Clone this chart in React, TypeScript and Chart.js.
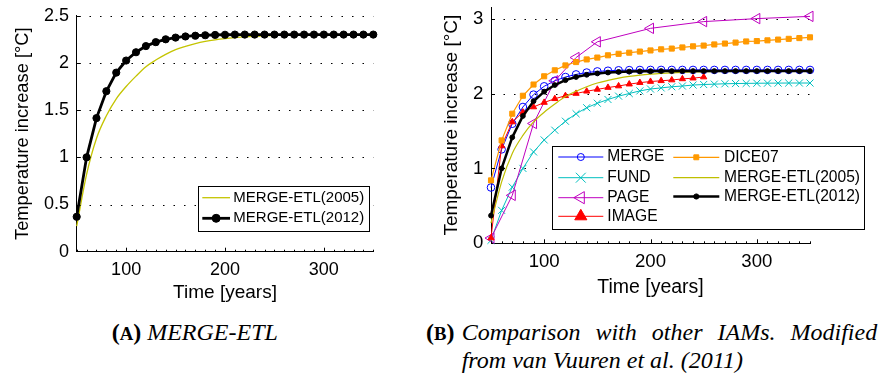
import React, { useEffect, useRef } from 'react';
import { Chart, registerables } from 'chart.js';
import { drawPoint } from 'chart.js/helpers';

Chart.register(...registerables);

// ---------- data ----------
const YEARS = [50, 60, 70, 80, 90, 100, 110, 120, 130, 140, 150, 160, 170, 180, 190, 200, 210, 220, 230, 240, 250, 260, 270, 280, 290, 300, 310, 320, 330, 340, 350];
const PAGE_YEARS = [50, 70, 90, 110, 130, 150, 200, 250, 300, 350];
const IMAGE_YEARS = [50, 60, 70, 80, 90, 100, 110, 120, 130, 140, 150, 160, 170, 180, 190, 200, 210, 220, 230, 240, 250];

const MERGE_ETL_2005 = [0.27, 0.82, 1.2, 1.44, 1.62, 1.75, 1.86, 1.96, 2.03, 2.09, 2.14, 2.175, 2.205, 2.228, 2.245, 2.258, 2.268, 2.276, 2.282, 2.287, 2.29, 2.293, 2.295, 2.297, 2.298, 2.299, 2.3, 2.3, 2.3, 2.3, 2.3];
const MERGE_ETL_2012 = [0.37, 1.0, 1.415, 1.7, 1.897, 2.025, 2.113, 2.178, 2.22, 2.25, 2.268, 2.28, 2.288, 2.293, 2.296, 2.298, 2.3, 2.3, 2.3, 2.3, 2.3, 2.3, 2.3, 2.3, 2.3, 2.3, 2.3, 2.3, 2.3, 2.3, 2.3];
const MERGE = [0.745, 1.254, 1.596, 1.82, 1.985, 2.096, 2.17, 2.22, 2.255, 2.28, 2.295, 2.304, 2.31, 2.312, 2.314, 2.315, 2.315, 2.315, 2.315, 2.315, 2.315, 2.315, 2.315, 2.315, 2.315, 2.315, 2.315, 2.315, 2.315, 2.315, 2.315];
const FUND = [0.04, 0.44, 0.75, 1.0, 1.22, 1.38, 1.51, 1.63, 1.73, 1.81, 1.87, 1.92, 1.965, 2.0, 2.035, 2.06, 2.075, 2.09, 2.1, 2.113, 2.12, 2.125, 2.13, 2.133, 2.135, 2.137, 2.138, 2.139, 2.14, 2.14, 2.14];
const PAGE = [0.07, 0.64, 1.6, 2.17, 2.48, 2.69, 2.87, 2.96, 3.0, 3.03];
const IMAGE = [0.07, 1.3, 1.62, 1.75, 1.82, 1.88, 1.93, 1.97, 2.0, 2.03, 2.055, 2.08, 2.1, 2.125, 2.145, 2.16, 2.17, 2.18, 2.195, 2.205, 2.22];
const DICE07 = [0.84, 1.374, 1.73, 1.97, 2.12, 2.23, 2.31, 2.375, 2.42, 2.455, 2.48, 2.51, 2.53, 2.545, 2.56, 2.575, 2.59, 2.6, 2.615, 2.63, 2.64, 2.655, 2.667, 2.68, 2.695, 2.7, 2.71, 2.72, 2.73, 2.74, 2.75];

const X_TICKS = [100, 200, 300];
const LEFT_Y_TICKS = [0, 0.5, 1, 1.5, 2, 2.5];
const RIGHT_Y_TICKS = [0, 1, 2, 3];

const FONT = '"Liberation Sans", Arial, sans-serif';

// ---------- helpers ----------
const pts = (xs: number[], ys: number[]) => ys.map((y, i) => ({ x: xs[i], y }));

function series(label: string, xs: number[], ys: number[], color: string, width: number, order: number, m: any = {}) {
  return {
    label,
    data: pts(xs, ys),
    borderColor: color,
    backgroundColor: color,
    borderWidth: width,
    pointStyle: m.style || 'circle',
    pointRadius: m.r || 0,
    pointHoverRadius: m.r || 0,
    pointRotation: m.rot || 0,
    pointBorderColor: color,
    pointBackgroundColor: m.fill ? color : 'rgba(0,0,0,0)',
    pointBorderWidth: m.bw || 1,
    tension: 0,
    cubicInterpolationMode: m.smooth ? 'monotone' : 'default',
    fill: false,
    clip: false,
    order,
  };
}

// dotted horizontal grid (MATLAB ':' grid) at the y scale's ticks
const dottedGrid = {
  id: 'dottedGrid',
  beforeDatasetsDraw(chart: any) {
    const { ctx, chartArea, scales } = chart;
    const ys = scales.y;
    ctx.save();
    ctx.strokeStyle = '#000';
    ctx.lineWidth = 1;
    ctx.setLineDash([1.5, 9]);
    for (const t of ys.ticks) {
      if (t.value === 0) continue;
      const py = Math.round(ys.getPixelForValue(t.value)) + 0.5;
      ctx.beginPath();
      ctx.moveTo(Math.round(chartArea.left) + 2, py);
      ctx.lineTo(chartArea.right, py);
      ctx.stroke();
    }
    ctx.restore();
  },
};

// inward major/minor tick marks
const innerTicks = {
  id: 'innerTicks',
  afterDraw(chart: any, _a: any, opts: any) {
    const { ctx, chartArea, scales } = chart;
    const xs = scales.x;
    const ys = scales.y;
    ctx.save();
    ctx.strokeStyle = '#000';
    ctx.lineWidth = 1;
    ctx.beginPath();
    for (let v = xs.min; v <= xs.max + 1e-6; v += opts.minorStep) {
      const px = Math.round(xs.getPixelForValue(v)) + 0.5;
      const major = xs.ticks.some((t: any) => Math.abs(t.value - v) < 1e-6);
      ctx.moveTo(px, chartArea.bottom);
      ctx.lineTo(px, chartArea.bottom - (major ? 4 : 2));
    }
    for (const t of ys.ticks) {
      if (t.value === 0) continue;
      const py = Math.round(ys.getPixelForValue(t.value)) + 0.5;
      ctx.moveTo(chartArea.left, py);
      ctx.lineTo(chartArea.left + 4, py);
    }
    ctx.stroke();
    ctx.restore();
  },
};

const boxLegend = {
  id: 'boxLegend',
  afterDatasetsDraw(chart: any, _a: any, opts: any) {
    if (!opts || !opts.box) return;
    const { ctx } = chart;
    const [x1, y1, x2, y2] = opts.box;
    ctx.save();
    ctx.fillStyle = '#fff';
    ctx.fillRect(x1, y1, x2 - x1, y2 - y1);
    ctx.strokeStyle = '#000';
    ctx.lineWidth = 1;
    ctx.strokeRect(Math.round(x1) + 0.5, Math.round(y1) + 0.5, Math.round(x2 - x1), Math.round(y2 - y1));
    ctx.font = `${opts.fontSize}px ${FONT}`;
    ctx.textBaseline = 'middle';
    ctx.textAlign = 'left';
    for (const it of opts.items) {
      const ds = chart.data.datasets[it.ds];
      ctx.strokeStyle = ds.borderColor;
      ctx.lineWidth = ds.borderWidth;
      ctx.beginPath();
      ctx.moveTo(it.x1, it.y);
      ctx.lineTo(it.x2, it.y);
      ctx.stroke();
      if (it.r > 0) {
        ctx.fillStyle = ds.pointBackgroundColor;
        ctx.strokeStyle = ds.pointBorderColor;
        ctx.lineWidth = ds.pointBorderWidth;
        drawPoint(ctx, { pointStyle: ds.pointStyle, rotation: ds.pointRotation, radius: it.r, borderWidth: ds.pointBorderWidth }, (it.x1 + it.x2) / 2, it.y);
      }
      ctx.fillStyle = '#000';
      ctx.fillText(ds.label, it.tx, it.y);
    }
    ctx.restore();
  },
};

function makeOptions(p: any) {
  return {
    responsive: false,
    animation: false,
    events: [],
    layout: { padding: p.pad },
    plugins: {
      legend: { display: false },
      tooltip: { enabled: false },
      boxLegend: p.legend,
      innerTicks: { minorStep: 10 },
    },
    scales: {
      x: {
        type: 'linear',
        min: 50,
        max: 350,
        afterBuildTicks: (s: any) => { s.ticks = X_TICKS.map((v) => ({ value: v })); },
        afterFit: (s: any) => { s.height = p.xHeight; s.paddingLeft = 0; s.paddingRight = 0; s.paddingTop = 0; s.paddingBottom = 0; },
        grid: { display: false, drawTicks: false },
        border: { display: true, color: '#000', width: 1 },
        ticks: { color: '#000', padding: p.xTickPad, maxRotation: 0, minRotation: 0, autoSkip: false, font: { family: FONT, size: p.tickSize, lineHeight: 1 }, callback: (v: any) => String(v) },
        title: { display: true, text: 'Time [years]', color: '#000', font: { family: FONT, size: p.xTitleSize, lineHeight: 1.2 }, padding: { top: 0, bottom: p.xTitlePad } },
      },
      y: {
        type: 'linear',
        min: 0,
        max: p.yMax,
        afterBuildTicks: (s: any) => { s.ticks = p.yTicks.map((v: number) => ({ value: v })); },
        afterFit: (s: any) => { s.width = p.yWidth; s.paddingLeft = 0; s.paddingRight = 0; s.paddingTop = 0; s.paddingBottom = 0; },
        grid: { display: false, drawTicks: false },
        border: { display: true, color: '#000', width: 1 },
        ticks: { color: '#000', padding: p.yTickPad, font: { family: FONT, size: p.tickSize, lineHeight: 1 }, callback: (v: any) => String(v) },
        title: { display: true, text: 'Temperature increase [°C]', color: '#000', font: { family: FONT, size: p.yTitleSize, lineHeight: 1.2 }, padding: { top: p.yTitlePad, bottom: 0 } },
      },
    },
  };
}

function leftConfig() {
  return {
    type: 'line',
    data: {
      datasets: [
        series('MERGE-ETL(2005)', YEARS, MERGE_ETL_2005, '#c4c400', 1.3, 1, { smooth: true }),
        series('MERGE-ETL(2012)', YEARS, MERGE_ETL_2012, '#000000', 2.8, 0, { style: 'circle', r: 3.6, fill: true }),
      ],
    },
    options: makeOptions({
      pad: { left: 0, top: 15.7, right: 66.7, bottom: 0 },
      yWidth: 76.7,
      xHeight: 53.3,
      yMax: 2.5,
      yTicks: LEFT_Y_TICKS,
      tickSize: 18,
      xTitleSize: 19,
      yTitleSize: 18.3,
      xTickPad: 9.4,
      yTickPad: 7.7,
      xTitlePad: 0.6,
      yTitlePad: 12,
      legend: {
        box: [198.3, 185.7, 369, 230.7],
        fontSize: 15,
        items: [
          { ds: 0, x1: 202.3, x2: 230, y: 197.7, tx: 233.3, r: 0 },
          { ds: 1, x1: 202.3, x2: 230, y: 218.3, tx: 233.3, r: 4 },
        ],
      },
    }),
    plugins: [dottedGrid, innerTicks, boxLegend],
  };
}

function rightConfig() {
  return {
    type: 'line',
    data: {
      datasets: [
        series('MERGE', YEARS, MERGE, '#0000ff', 1, 6, { style: 'circle', r: 3.8 }),
        series('FUND', YEARS, FUND, '#00bfbf', 1, 5, { style: 'crossRot', r: 5 }),
        series('PAGE', PAGE_YEARS, PAGE, '#bf00bf', 1, 4, { style: 'triangle', r: 6, rot: -90 }),
        series('IMAGE', IMAGE_YEARS, IMAGE, '#ff0000', 1, 3, { style: 'triangle', r: 3.6, fill: true }),
        series('DICE07', YEARS, DICE07, '#ff9900', 1.2, 2, { style: 'rect', r: 3.6, fill: true }),
        series('MERGE-ETL(2005)', YEARS, MERGE_ETL_2005, '#bfbf00', 1.2, 1, { smooth: true }),
        series('MERGE-ETL(2012)', YEARS, MERGE_ETL_2012, '#000000', 2.5, 0, { style: 'circle', r: 2.4, fill: true }),
      ],
    },
    options: makeOptions({
      pad: { left: 0, top: 6, right: 69, bottom: 0 },
      yWidth: 51,
      xHeight: 61.7,
      yMax: 3.155,
      yTicks: RIGHT_Y_TICKS,
      tickSize: 18.6,
      xTitleSize: 19.5,
      yTitleSize: 19,
      xTickPad: 9.1,
      yTickPad: 7.7,
      xTitlePad: 5.3,
      yTitlePad: 0.3,
      legend: {
        box: [112.3, 145.7, 424, 228.3],
        fontSize: 15.6,
        items: [
          { ds: 0, x1: 118.3, x2: 163.3, y: 157, tx: 167.3, r: 3.5 },
          { ds: 1, x1: 118.3, x2: 163.3, y: 177.7, tx: 167.3, r: 7 },
          { ds: 2, x1: 118.3, x2: 163.3, y: 197.7, tx: 167.3, r: 7 },
          { ds: 3, x1: 118.3, x2: 163.3, y: 216.3, tx: 167.3, r: 7 },
          { ds: 4, x1: 233.3, x2: 279.3, y: 157.3, tx: 284, r: 3.5 },
          { ds: 5, x1: 233.3, x2: 279.3, y: 177.7, tx: 284, r: 0 },
          { ds: 6, x1: 233.3, x2: 279.3, y: 196.5, tx: 284, r: 2.6 },
        ],
      },
    }),
    plugins: [dottedGrid, innerTicks, boxLegend],
  };
}

function ChartCanvas({ make, left, top, width, height }: any) {
  const ref = useRef<HTMLCanvasElement | null>(null);
  useEffect(() => {
    const chart = new Chart(ref.current as any, make() as any);
    return () => chart.destroy();
  }, []);
  return <canvas ref={ref} width={width} height={height} style={{ position: 'absolute', left, top, width, height }} />;
}

const capBase: any = {
  position: 'absolute',
  fontFamily: '"Liberation Serif", "Times New Roman", serif',
  fontSize: 24,
  lineHeight: '24px',
  whiteSpace: 'nowrap',
  color: '#000',
};

function Label({ letter }: { letter: string }) {
  return (
    <span style={{ fontWeight: 'bold', fontStyle: 'normal' }}>
      (<span style={{ fontSize: '0.78em' }}>{letter}</span>)
    </span>
  );
}

export default function App() {
  return (
    <div style={{ position: 'absolute', left: 0, top: 0, width: 879, height: 374, background: '#fff', overflow: 'hidden' }}>
      <ChartCanvas make={leftConfig} left={0} top={0} width={440} height={305} />
      <ChartCanvas make={rightConfig} left={440} top={0} width={439} height={305} />
      <div style={{ ...capBase, left: 111.7, top: 320.4 }}>
        <Label letter="A" /> <i>MERGE-ETL</i>
      </div>
      <div style={{ ...capBase, left: 426, top: 320.4 }}>
        <Label letter="B" />
      </div>
      <div style={{ ...capBase, left: 461.7, top: 320.4, width: 415.5, whiteSpace: 'normal', textAlign: 'justify', textAlignLast: 'justify', fontStyle: 'italic' }}>
        Comparison with other IAMs. Modified
      </div>
      <div style={{ ...capBase, left: 461.7, top: 347.9, fontStyle: 'italic' }}>from van Vuuren et al. (2011)</div>
    </div>
  );
}
